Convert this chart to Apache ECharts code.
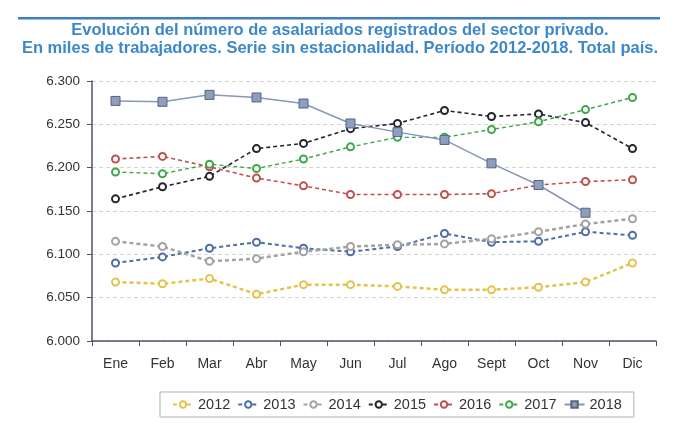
<!DOCTYPE html>
<html><head><meta charset="utf-8">
<script src="https://cdn.jsdelivr.net/npm/echarts@6/dist/echarts.min.js"></script>
<style>html,body{margin:0;padding:0;background:#fff}#c{width:680px;height:442px}</style>
</head><body><div id="c"></div>
<script>
const months = ['Ene','Feb','Mar','Abr','May','Jun','Jul','Ago','Sept','Oct','Nov','Dic'];
const years = ['2012','2013','2014','2015','2016','2017','2018'];
const s2012 = [6.068,6.066,6.072,6.054,6.065,6.065,6.063,6.059,6.059,6.062,6.068,6.090];
const s2013 = [6.090,6.097,6.107,6.114,6.107,6.103,6.109,6.124,6.114,6.115,6.126,6.122];
const s2014 = [6.115,6.109,6.092,6.095,6.103,6.109,6.111,6.112,6.118,6.126,6.135,6.141];
const s2015 = [6.164,6.178,6.190,6.222,6.228,6.245,6.251,6.266,6.259,6.262,6.252,6.222];
const s2016 = [6.210,6.213,6.201,6.188,6.179,6.169,6.169,6.169,6.170,6.180,6.184,6.186];
const s2017 = [6.195,6.193,6.204,6.199,6.210,6.224,6.235,6.235,6.244,6.253,6.267,6.281];
const s2018 = [6.277,6.276,6.284,6.281,6.274,6.251,6.241,6.232,6.205,6.180,6.148];
const yTicks = {min:6.0, max:6.3, interval:0.05};

const chart = echarts.init(document.getElementById('c'), null, {renderer:'canvas'});
function dashed(name, data, color, width, mborder, msize){
  return {name, type:'line', data, symbol:'emptyCircle', symbolSize:msize||7,
    lineStyle:{color, width, type:[4,3]},
    itemStyle:{color, borderColor:color, borderWidth:mborder||1.2},
    z:2};
}
chart.setOption({
  animation:false,
  title:{
    text:'Evolución del número de asalariados registrados del sector privado.\nEn miles de trabajadores. Serie sin estacionalidad. Período 2012-2018. Total país.',
    left:'center', top:21, padding:0,
    textStyle:{color:'#3d88c9', fontSize:16.5, fontWeight:'bold', fontFamily:'Liberation Sans, Arial, sans-serif', lineHeight:18}
  },
  graphic:[{type:'rect', shape:{x:18,y:17,width:642,height:2.5}, style:{fill:'#3d7fc4'}}],
  legend:{
    data:years, top:392, left:160, itemWidth:20, itemHeight:8, itemGap:7,
    textStyle:{color:'#333', fontSize:14.5, fontFamily:'Liberation Sans, Arial, sans-serif'},
    borderColor:'#a9b3c1', borderWidth:1, padding:[5,12,5,12]
  },
  grid:{left:92, right:24, top:81, bottom:101},
  xAxis:{type:'category', data:months, boundaryGap:true,
    axisLine:{lineStyle:{color:'#4a5468', width:1.5}},
    axisTick:{show:true, length:5, lineStyle:{color:'#4a5468'}},
    axisLabel:{color:'#333', fontSize:14, margin:16, fontFamily:'Liberation Sans, Arial, sans-serif'},
    splitLine:{show:false}},
  yAxis:{type:'value', min:yTicks.min, max:yTicks.max, interval:yTicks.interval,
    axisLine:{show:true, lineStyle:{color:'#4a5468', width:1.5}},
    axisTick:{show:true, length:5, inside:false, lineStyle:{color:'#4a5468'}},
    axisLabel:{color:'#333', fontSize:13.5, margin:12, fontFamily:'Liberation Sans, Arial, sans-serif',
      formatter:v=>v.toFixed(3)},
    splitLine:{lineStyle:{color:'#d4d4d4', type:[4,3]}}},
  series:[
    dashed('2012', s2012, '#e3c34c', 2.5),
    dashed('2013', s2013, '#4d6fa8', 2),
    dashed('2014', s2014, '#a3a3a3', 2.5),
    dashed('2015', s2015, '#25252e', 1.6, 2.2),
    dashed('2016', s2016, '#c0504d', 1.6),
    dashed('2017', s2017, '#3ea84a', 1.4),
    {name:'2018', type:'line', data:s2018, symbol:'rect', symbolSize:9,
      lineStyle:{color:'#8797b6', width:1.5},
      itemStyle:{color:'#8e9ec0', borderColor:'#56657f', borderWidth:1}, z:3}
  ]
});
</script></body></html>
